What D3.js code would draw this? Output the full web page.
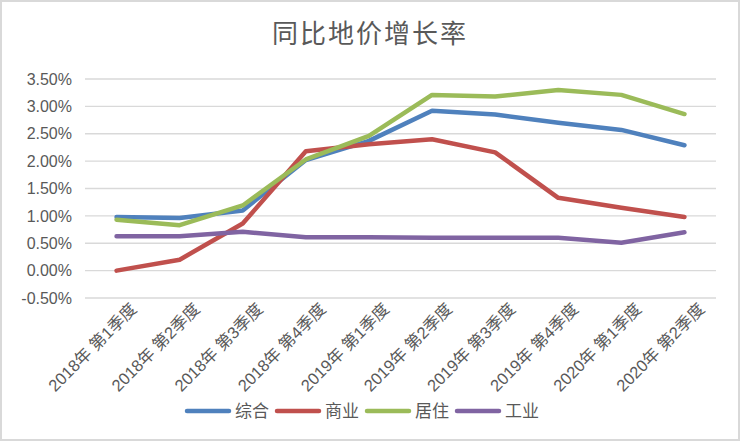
<!DOCTYPE html>
<html>

<head>
    <meta charset="utf-8">
    <script src="https://d3js.org/d3.v7.min.js"></script>
    <title>同比地价增长率</title>
    <style>
        body { margin: 0; background: #fff; }
        text { font-family: "Liberation Sans", "Noto Sans CJK SC", sans-serif; fill: #595959; }
    </style>
</head>

<body>
    <svg></svg>
    <script>
        const quarters = ["2018年第1季度", "2018年第2季度", "2018年第3季度", "2018年第4季度",
            "2019年第1季度", "2019年第2季度", "2019年第3季度", "2019年第4季度",
            "2020年第1季度", "2020年第2季度"];
        const seriesNames = ["综合", "商业", "居住", "工业"];
        const zonghe = [0.98, 0.96, 1.10, 2.02, 2.37, 2.92, 2.85, 2.70, 2.57, 2.29];
        const shangye = [0.00, 0.20, 0.86, 2.18, 2.31, 2.40, 2.16, 1.33, 1.15, 0.98];
        const juzhu = [0.93, 0.83, 1.19, 2.03, 2.46, 3.21, 3.18, 3.30, 3.21, 2.86];
        const gongye = [0.63, 0.63, 0.71, 0.61, 0.61, 0.60, 0.60, 0.60, 0.51, 0.70];
        const yTicks = [-0.5, 0, 0.5, 1, 1.5, 2, 2.5, 3, 3.5];

        const colors = ["#4F81BD", "#C0504D", "#9BBB59", "#8064A2"];
        const allSeries = [zonghe, shangye, juzhu, gongye];

        const width = 740;
        const height = 441;
        const margin = { left: 85, right: 24, top: 79, bottom: 143 };

        const svg = d3.select("svg")
            .attr("width", width)
            .attr("height", height);

        // chart border
        svg.append("rect")
            .attr("x", 1).attr("y", 1)
            .attr("width", width - 2).attr("height", height - 2)
            .attr("fill", "#fff")
            .attr("stroke", "#d9d9d9")
            .attr("stroke-width", 2);

        svg.append("text")
            .attr("x", width / 2)
            .attr("y", 43)
            .attr("text-anchor", "middle")
            .style("font-size", "26px")
            .style("letter-spacing", "2px")
            .text("同比地价增长率");

        const x = d3.scalePoint()
            .domain(quarters)
            .range([margin.left, width - margin.right])
            .padding(0.5);

        const y = d3.scaleLinear()
            .domain([-0.5, 3.5])
            .range([height - margin.bottom, margin.top]);

        // gridlines
        svg.append("g")
            .selectAll("line")
            .data(yTicks)
            .join("line")
            .attr("x1", margin.left)
            .attr("x2", width - margin.right)
            .attr("y1", d => y(d))
            .attr("y2", d => y(d))
            .attr("stroke", "#d9d9d9")
            .attr("stroke-width", 1.3);

        // y axis labels
        const yAxis = svg.append("g")
            .attr("transform", `translate(${margin.left - 13},0)`)
            .call(d3.axisLeft(y).tickValues(yTicks).tickSize(0).tickPadding(0)
                .tickFormat(d => d.toFixed(2) + "%"));
        yAxis.select(".domain").remove();
        yAxis.selectAll("text")
            .style("font-size", "16px")
            .attr("fill", "#595959");

        // x axis labels, rotated
        svg.append("g")
            .selectAll("text")
            .data(quarters)
            .join("text")
            .attr("transform", d => `translate(${x(d) + 13},${y(-0.5) + 4}) rotate(-45)`)
            .attr("text-anchor", "end")
            .attr("dy", "0.7em")
            .style("font-size", "16.5px")
            .text(d => d.replace("年", "年 "));

        const line = d3.line()
            .x((d, i) => x(quarters[i]))
            .y(d => y(d));

        svg.append("g")
            .selectAll("path")
            .data(allSeries)
            .join("path")
            .attr("d", line)
            .attr("fill", "none")
            .attr("stroke", (d, i) => colors[i])
            .attr("stroke-width", 4.5)
            .attr("stroke-linejoin", "round")
            .attr("stroke-linecap", "round");

        // legend
        const legendX = [187, 277, 367, 457];
        const legend = svg.append("g")
            .selectAll("g")
            .data(seriesNames)
            .join("g")
            .attr("transform", (d, i) => `translate(${legendX[i]},411)`);
        legend.append("line")
            .attr("x1", 0).attr("x2", 42)
            .attr("stroke", (d, i) => colors[i])
            .attr("stroke-width", 4.5)
            .attr("stroke-linecap", "round");
        legend.append("text")
            .attr("x", 48)
            .attr("dy", "0.36em")
            .style("font-size", "17px")
            .text(d => d);
    </script>
</body>

</html>
